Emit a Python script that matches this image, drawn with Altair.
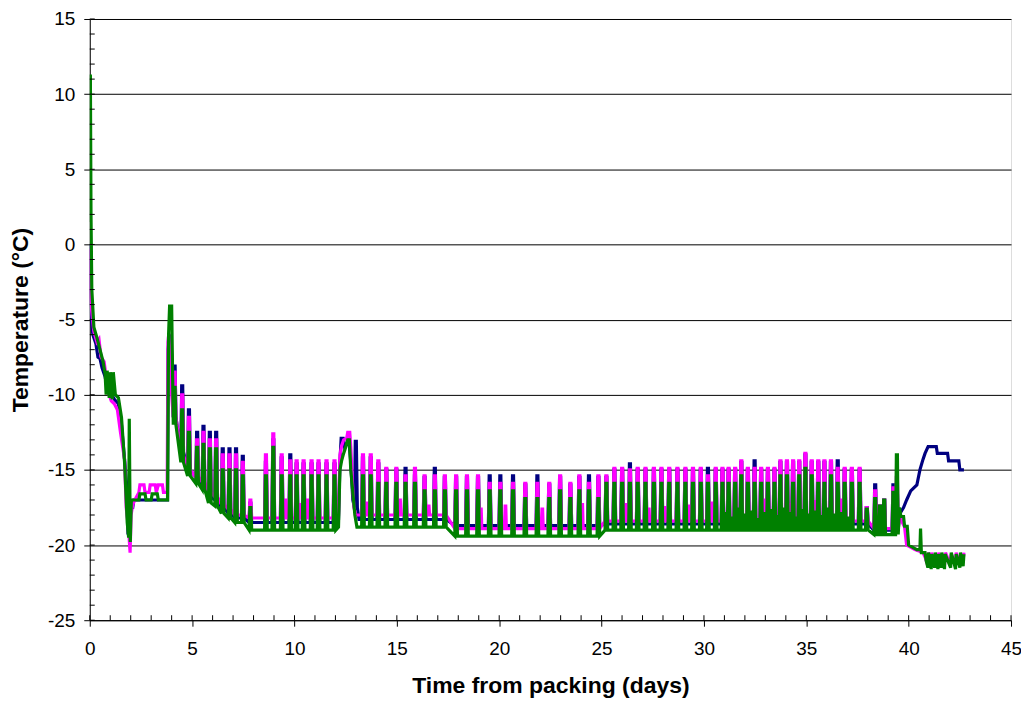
import altair as alt
import pandas as pd

# ---------------- data ----------------
SERIES = ["navy", "magenta", "green"]
COLORS = ["#000080", "#FF00FF", "#008000"]

# main periodic spikes (days)
spike_t = [4.14, 4.51, 4.84, 5.24, 5.55, 5.86, 6.17, 6.49, 6.82, 7.14, 7.47, 7.84,
           8.60, 8.96, 9.37, 9.79, 10.10, 10.44, 10.83, 11.17, 11.56, 11.95,
           13.34, 13.72, 14.09, 14.48, 14.97, 15.42, 15.88, 16.35, 16.85, 17.34,
           17.89, 18.42, 18.96, 19.53, 20.05, 20.67, 21.27, 21.86, 22.44, 22.97,
           23.47, 23.91, 24.38, 24.84, 25.23, 25.62, 26.00, 26.38, 26.76, 27.14,
           27.55, 27.92, 28.30, 28.70, 29.09, 29.46, 29.84, 30.19, 30.57, 30.90,
           31.20, 31.52, 31.82, 32.14, 32.47, 32.79, 33.12, 33.44, 33.73, 34.05,
           34.35, 34.65, 34.95, 35.26, 35.58, 35.88, 36.20, 36.53, 36.87, 37.22,
           37.60, 37.95, 38.36, 38.60, 38.80, 39.25, 39.42]

navy_peak = [-8.1, -9.4, -11.0, -12.5, -12.1, -12.5, -12.5, -13.6, -13.6, -13.6, -14.1, -17.2,
             -14.5, -13.0, -14.2, -14.0, -14.6, -14.6, -14.6, -14.6, -14.6, -14.6,
             -14.2, -14.2, -14.6, -15.0, -15.0, -14.9, -15.4, -15.5, -14.9, -15.5,
             -15.5, -15.5, -15.5, -15.4, -15.4, -15.4, -16.0, -15.4, -16.0, -15.5,
             -16.0, -15.5, -15.4, -15.5, -15.5, -15.0, -15.0, -14.6, -15.0, -15.0,
             -15.0, -15.0, -15.0, -15.0, -15.0, -15.0, -15.0, -14.9, -15.0, -15.0,
             -15.0, -15.0, -14.5, -15.0, -14.4, -15.0, -15.0, -15.0, -14.5, -14.5,
             -14.5, -14.5, -14.0, -14.5, -14.5, -14.5, -14.5, -14.4, -15.0, -15.0,
             -15.0, -17.5, -16.0, -17.4, -17.0, -16.0, -16.5]

magenta_peak = [-8.5, -10.0, -11.5, -13.0, -12.5, -13.0, -13.0, -14.0, -14.0, -14.0, -14.5, -17.0,
                -14.0, -12.6, -14.0, -14.4, -14.4, -14.4, -14.4, -14.4, -14.4, -14.4,
                -14.0, -14.0, -14.4, -14.9, -14.9, -15.4, -14.9, -15.4, -15.4, -15.4,
                -15.4, -15.4, -15.4, -15.9, -15.9, -15.9, -15.9, -15.9, -15.9, -15.4,
                -15.9, -15.4, -15.9, -15.4, -15.4, -14.9, -14.9, -15.0, -14.9, -14.9,
                -14.9, -14.9, -14.9, -14.9, -14.9, -14.9, -14.9, -15.4, -14.9, -14.9,
                -14.9, -14.9, -14.4, -14.9, -14.9, -14.9, -14.9, -14.9, -14.4, -14.4,
                -14.4, -14.4, -13.9, -14.4, -14.4, -14.4, -14.4, -14.9, -14.9, -14.9,
                -14.9, -17.5, -16.4, -17.4, -17.0, -16.2, -15.5]

green_peak = [-9.5, -11.0, -12.5, -13.5, -13.3, -13.6, -13.6, -15.0, -15.0, -15.0, -15.4, -17.5,
              -15.4, -13.5, -15.4, -15.4, -15.4, -15.4, -15.4, -15.4, -15.4, -15.4,
              -15.4, -15.4, -15.9, -15.9, -15.9, -15.9, -15.9, -16.4, -16.4, -16.4,
              -16.4, -16.4, -16.4, -16.4, -16.4, -16.4, -16.9, -16.9, -16.9, -16.4,
              -16.9, -16.4, -16.4, -16.9, -15.9, -15.9, -15.9, -15.9, -15.9, -15.9,
              -15.9, -15.9, -15.9, -15.9, -15.9, -15.9, -15.9, -15.9, -15.9, -15.9,
              -15.9, -15.9, -15.4, -15.9, -15.9, -15.9, -15.9, -15.9, -15.4, -15.4,
              -15.9, -15.4, -14.9, -15.4, -15.9, -15.9, -15.4, -15.9, -15.9, -15.9,
              -15.9, -17.6, -16.9, -17.4, -17.0, -16.5, -14.0]

# baseline level between spikes: value holds for spikes before base_end
base_end = [4.3, 4.7, 5.0, 5.4, 5.7, 6.0, 6.3, 6.6, 7.0, 7.7, 12.2, 17.6, 25.1, 38.1, 39.5]
navy_base = [-11.5, -13.8, -15.0, -15.5, -16.0, -16.8, -17.0, -17.5, -17.9, -18.2, -18.5, -18.3, -18.7, -18.6, -19.0]
magenta_base = [-11.5, -14.0, -15.0, -15.5, -15.8, -16.5, -16.8, -17.3, -17.6, -18.0, -18.2, -18.0, -18.9, -18.4, -18.9]
green_base = [-12.0, -14.5, -15.4, -15.9, -16.3, -17.2, -17.4, -17.9, -18.2, -18.5, -19.0, -18.8, -19.4, -19.0, -19.3]

# small extra bumps between the main spikes
green_minor_t = [31.05, 31.35, 31.67, 31.98, 32.30, 32.62, 32.95, 33.28, 33.60, 33.90,
                 34.20, 34.50, 34.80, 35.10, 35.42, 35.73, 36.05, 36.37, 36.70, 37.05]
green_minor_y = [-17.9, -18.2, -17.6, -18.0, -17.8, -18.3, -17.9, -17.7, -18.1, -17.6,
                 -17.9, -18.2, -17.7, -18.0, -17.8, -18.1, -17.6, -18.0, -17.9, -18.2]
magenta_minor_t = [9.55, 10.25, 10.62, 13.50, 15.15, 16.55, 19.10, 20.30, 22.10, 24.05,
                   26.15, 27.30, 28.05, 29.25, 30.35, 32.95, 34.20, 35.40, 36.70]
magenta_minor_y = [-17.0, -17.3, -17.0, -17.2, -17.0, -17.4, -17.6, -17.4, -17.6, -17.3,
                   -17.3, -17.6, -17.5, -17.4, -17.2, -17.0, -17.3, -17.1, -17.0]

# hand-read traces: initial cool-down, day-12 hump, final period
navy_start_x = [0.0, 0.04, 0.08, 0.15, 0.30, 0.40, 0.50, 0.60, 0.75, 0.85, 1.00, 1.20, 1.40, 1.55, 1.70, 1.80, 1.87, 1.95, 2.00, 2.10, 2.15, 3.80, 3.83, 3.90, 3.97, 4.05]
navy_start_y = [0.0, -3.0, -5.0, -6.0, -6.6, -7.5, -7.6, -8.2, -8.8, -9.6, -9.8, -10.3, -10.6, -12.0, -14.3, -16.0, -19.3, -19.0, -17.5, -17.5, -17.0, -17.0, -7.0, -6.0, -6.5, -8.5]
magenta_start_x = [0.0, 0.04, 0.10, 0.20, 0.35, 0.45, 0.55, 0.70, 0.80, 0.90, 1.05, 1.20, 1.35, 1.50, 1.70, 1.78, 1.90, 1.97, 2.02, 2.10, 2.20, 2.40, 2.45, 2.65, 2.70, 2.90, 2.95, 3.20, 3.25, 3.35, 3.55, 3.60, 3.78, 3.82, 3.86, 3.92, 4.00]
magenta_start_y = [-0.3, -3.5, -4.5, -5.8, -6.5, -6.3, -7.5, -7.8, -8.8, -9.8, -10.4, -10.6, -11.0, -12.5, -14.3, -17.5, -19.0, -20.5, -18.0, -17.3, -17.0, -16.5, -16.0, -16.0, -16.5, -16.5, -16.0, -16.0, -16.5, -16.0, -16.0, -16.5, -16.5, -6.5, -5.9, -7.5, -10.0]
green_start_x = [0.0, 0.03, 0.06, 0.10, 0.20, 0.35, 0.50, 0.65, 0.75, 0.80, 0.85, 0.95, 1.00, 1.10, 1.15, 1.25, 1.40, 1.55, 1.70, 1.83, 1.90, 1.93, 1.98, 2.03, 2.40, 2.45, 2.70, 2.75, 3.00, 3.05, 3.30, 3.35, 3.80, 3.85, 3.90, 4.00, 4.05]
green_start_y = [1.5, 11.3, 2.0, -3.0, -5.5, -6.2, -7.0, -7.8, -8.6, -10.0, -8.4, -10.2, -8.5, -10.3, -8.5, -10.0, -10.2, -11.5, -14.5, -18.5, -19.5, -11.6, -19.8, -17.0, -17.0, -16.6, -16.6, -17.0, -17.0, -16.6, -16.6, -17.0, -17.0, -6.0, -4.1, -4.1, -9.0]

navy_hump_x = [12.15, 12.22, 12.28, 12.38, 12.45, 12.55, 12.65, 12.75, 12.85, 12.93, 12.97, 13.02, 13.07, 13.15]
navy_hump_y = [-18.3, -14.5, -12.9, -12.9, -13.5, -13.3, -12.9, -14.5, -17.0, -17.5, -13.1, -13.1, -17.5, -18.3]
magenta_hump_x = [12.15, 12.22, 12.30, 12.40, 12.55, 12.60, 12.70, 12.75, 12.82, 12.90, 13.00]
magenta_hump_y = [-18.0, -14.0, -13.4, -13.0, -12.9, -12.5, -12.5, -13.5, -15.5, -17.5, -18.0]
green_hump_x = [12.15, 12.22, 12.30, 12.40, 12.50, 12.60, 12.68, 12.75, 12.85, 12.95, 13.05]
green_hump_y = [-18.8, -15.0, -14.4, -13.9, -13.5, -13.0, -13.0, -15.0, -16.5, -18.0, -18.8]

navy_end_x = [39.55, 39.62, 39.75, 39.90, 40.10, 40.40, 40.55, 40.70, 40.80, 40.95, 41.35, 41.40, 41.90, 41.95, 42.45, 42.50, 42.70]
navy_end_y = [-18.0, -17.8, -17.5, -17.0, -16.4, -16.0, -15.0, -14.3, -13.9, -13.45, -13.45, -13.9, -13.9, -14.4, -14.4, -15.0, -15.0]
magenta_end_x = [39.55, 39.62, 39.80, 39.90, 40.30, 40.70, 40.80, 40.92, 40.97, 41.08, 41.13, 41.25, 41.30, 41.42, 41.47, 41.58, 41.63, 41.75, 41.80, 42.03, 42.08, 42.27, 42.32, 42.48, 42.53, 42.64, 42.70]
magenta_end_y = [-17.8, -18.3, -18.8, -20.0, -20.3, -20.5, -20.8, -21.3, -20.5, -21.3, -20.5, -21.3, -20.6, -21.3, -20.5, -21.3, -20.6, -21.3, -20.5, -21.3, -20.6, -21.3, -20.5, -21.3, -20.6, -21.2, -20.5]
green_end_x = [39.55, 39.62, 39.75, 39.80, 39.93, 40.00, 40.40, 40.55, 40.58, 40.62, 40.80, 40.85, 40.94, 40.97, 41.10, 41.13, 41.27, 41.30, 41.43, 41.46, 41.59, 41.62, 41.75, 41.78, 42.05, 42.08, 42.29, 42.32, 42.50, 42.53, 42.66, 42.70]
green_end_y = [-17.5, -18.1, -18.1, -18.75, -18.75, -20.0, -20.3, -20.3, -18.9, -20.5, -20.5, -21.0, -21.5, -20.5, -21.6, -20.6, -21.5, -20.5, -21.6, -20.6, -21.5, -20.5, -21.6, -20.6, -21.5, -20.5, -21.6, -20.6, -21.5, -20.5, -21.4, -20.6]

x_ticks = [0, 5, 10, 15, 20, 25, 30, 35, 40, 45]
y_ticks = [-25, -20, -15, -10, -5, 0, 5, 10, 15]
x_minor = list(range(0, 46))
y_minor = list(range(-25, 16))

# ---------------- build the traces ----------------
def base_at(t, bases):
    for e, v in zip(base_end, bases):
        if t < e:
            return v
    return bases[-1]


def build(peaks, bases, start, hump, end, minor=None):
    pts = list(zip(*start)) + list(zip(*hump)) + list(zip(*end))
    for t, p in zip(spike_t, peaks):
        b = base_at(t, bases)
        pts += [(t - 0.06, b), (t - 0.02, p), (t + 0.03, p), (t + 0.07, b)]
    if minor:
        for t, p in zip(*minor):
            b = base_at(t, bases)
            pts += [(t - 0.04, b), (t - 0.01, p), (t + 0.02, p), (t + 0.05, b)]
    pts.sort(key=lambda q: q[0])
    return pd.DataFrame(pts, columns=["x", "y"])


frames = {
    "navy": build(navy_peak, navy_base, (navy_start_x, navy_start_y),
                  (navy_hump_x, navy_hump_y), (navy_end_x, navy_end_y)),
    "magenta": build(magenta_peak, magenta_base, (magenta_start_x, magenta_start_y),
                     (magenta_hump_x, magenta_hump_y), (magenta_end_x, magenta_end_y),
                     (magenta_minor_t, magenta_minor_y)),
    "green": build(green_peak, green_base, (green_start_x, green_start_y),
                   (green_hump_x, green_hump_y), (green_end_x, green_end_y),
                   (green_minor_t, green_minor_y)),
}

FONT = "Liberation Sans"
xscale = alt.Scale(domain=[0, 45], nice=False, zero=False)
yscale = alt.Scale(domain=[-25, 15], nice=False, zero=False)

xaxis = alt.Axis(values=x_ticks, title="Time from packing (days)", grid=False,
                 tickSize=6, tickColor="black", domainColor="black",
                 labelFont=FONT, labelFontSize=19, labelColor="black", labelPadding=13,
                 labelExpr="'' + datum.value",
                 titleFont=FONT, titleFontSize=23, titleFontWeight="bold",
                 titleColor="black", titlePadding=16, labelFlush=False)
yaxis = alt.Axis(values=y_ticks, title="Temperature (°C)", grid=True,
                 gridColor="black", gridWidth=1, gridOpacity=1,
                 tickSize=6, tickColor="black", domainColor="black",
                 labelFont=FONT, labelFontSize=19, labelColor="black", labelPadding=9,
                 labelExpr="'' + datum.value",
                 titleFont=FONT, titleFontSize=23, titleFontWeight="bold",
                 titleColor="black", titlePadding=15, labelFlush=False)

X = lambda: alt.X("x:Q", scale=xscale, axis=xaxis)
Y = lambda: alt.Y("y:Q", scale=yscale, axis=yaxis)

layers = []
for name, col in zip(SERIES, COLORS):
    layers.append(
        alt.Chart(frames[name]).mark_line(color=col, strokeWidth=3.2, clip=True).encode(
            x=X(), y=Y(), order="x:Q")
    )

ymin = alt.Chart(pd.DataFrame({"y": y_minor})).mark_rule(color="black", strokeWidth=1).encode(
    y=Y(), x=alt.value(0), x2=alt.value(5))
xmin = alt.Chart(pd.DataFrame({"x": x_minor})).mark_rule(color="black", strokeWidth=1).encode(
    x=X(), y=alt.value(603), y2=alt.value(598))

chart = alt.layer(*layers, ymin, xmin).properties(
    width=924, height=603,
    autosize=alt.AutoSizeParams(type="none"),
    padding={"left": 82, "top": 10, "right": 10, "bottom": 84},
).configure_view(stroke="#808080", strokeWidth=1.5).configure(background="white")

chart.save("out.html", embed_options={"renderer": "svg", "actions": False})
